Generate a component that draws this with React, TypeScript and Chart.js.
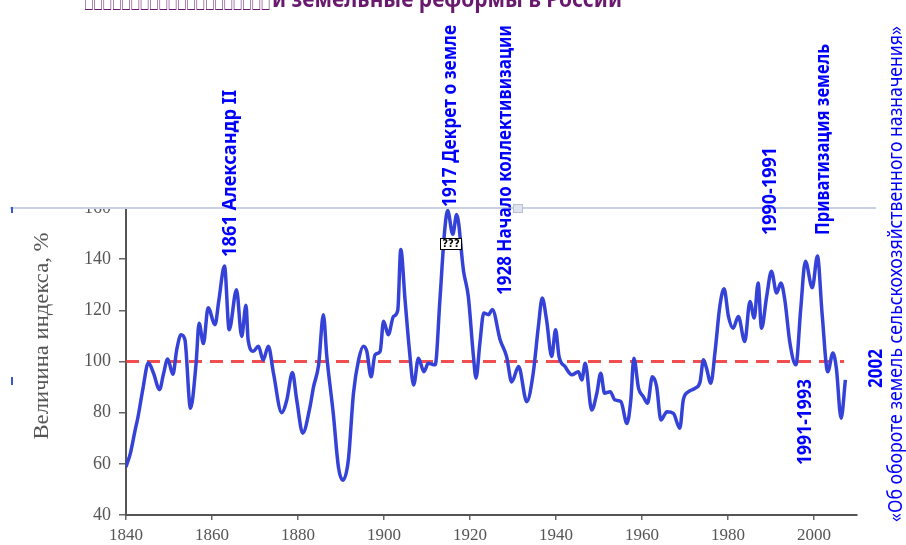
import React, { useEffect, useRef } from "react";
import { Chart, registerables } from "chart.js";

Chart.register(...registerables);

// ---- data ----
const years = [
  1840.0, 1841.0, 1842.1, 1842.8, 1843.9, 1845.2, 1846.4, 1847.8, 1848.7, 1849.7,
  1850.9, 1851.8, 1852.8, 1853.7, 1855.0, 1856.3, 1857.0, 1858.0, 1859.1, 1860.7,
  1861.6, 1862.9, 1864.0, 1865.7, 1866.9, 1867.9, 1868.4, 1869.6, 1870.8, 1871.9,
  1873.1, 1874.3, 1876.2, 1877.4, 1878.7, 1879.7, 1881.1, 1882.8, 1883.6, 1884.8,
  1885.9, 1886.7, 1888.2, 1889.4, 1890.4, 1891.7, 1892.9, 1894.1, 1895.2, 1896.0,
  1897.0, 1897.9, 1899.1, 1899.9, 1901.0, 1902.2, 1903.2, 1903.9, 1904.9, 1905.9,
  1906.9, 1908.0, 1909.3, 1910.3, 1911.9, 1913.0, 1914.1, 1914.8, 1916.0, 1916.9,
  1918.5, 1919.6, 1920.8, 1921.4, 1922.3, 1923.2, 1924.3, 1925.2, 1927.0, 1928.5,
  1929.7, 1931.3, 1933.2, 1934.7, 1935.9, 1936.8, 1937.8, 1939.0, 1939.9, 1940.7,
  1942.1, 1943.7, 1945.2, 1946.0, 1946.8, 1948.3, 1949.5, 1950.4, 1951.3, 1952.6,
  1953.7, 1955.1, 1956.5, 1957.4, 1958.1, 1959.2, 1960.3, 1961.3, 1962.4, 1963.4,
  1964.4, 1965.8, 1967.3, 1968.8, 1969.6, 1970.8, 1972.3, 1973.5, 1974.3, 1975.0,
  1976.0, 1977.0, 1978.1, 1979.1, 1980.1, 1981.2, 1982.4, 1983.9, 1985.1, 1986.1,
  1987.0, 1987.8, 1989.0, 1990.1, 1991.3, 1992.3, 1993.2, 1994.4, 1995.8, 1996.9,
  1998.0, 1999.6, 2000.8, 2001.9, 2003.2, 2004.4, 2005.2, 2006.3, 2007.3,
];

const indexValues = [
  58.8, 64, 73, 78.4, 89, 99.5, 95.4, 89, 95, 101,
  95, 104.6, 110.5, 108.5, 81.7, 99.3, 115, 107, 121, 114.4,
  124, 137.3, 112.4, 128, 109.8, 122, 108.5, 104, 106, 100.6,
  106, 95.4, 80, 85, 95.7, 85, 72, 82.4, 90, 98.7,
  118.3, 102, 79.7, 58.8, 53.6, 61.4, 87.6, 100.7, 106, 104,
  94, 102.6, 104, 115.7, 110.5, 117.6, 120, 143.8, 124, 104.6,
  90.8, 101.3, 96, 99.3, 98.7, 124, 151, 159, 149.7, 157.5,
  135.3, 125.5, 102, 93.5, 107.2, 119, 118.3, 120.3, 108.5, 102,
  92, 98, 84.3, 95.4, 113.7, 124.8, 116.3, 102, 112.4, 102,
  98, 94.8, 96, 92.8, 99.3, 81, 87.6, 95.4, 87.6, 88.2,
  85, 84.3, 75.8, 85, 101.3, 89.5, 86.3, 83.7, 94, 90.2,
  77.1, 80.4, 79.7, 73.9, 85, 88.2, 89.5, 92, 100.7, 97.4,
  91.5, 104, 121.6, 128.4, 117.6, 113, 117.6, 107.8, 123.5, 117,
  130.7, 113, 125.5, 135.3, 126.8, 130.7, 124.2, 107.2, 98.7, 120.3,
  139.2, 128.8, 141.2, 118.3, 96, 103.3, 97.4, 77.8, 92.8,
];

const baselineValue = 100;
const baselineYears = [1840, 2007];
const xTickValues = [1840, 1860, 1880, 1900, 1920, 1940, 1960, 1980, 2000];
const yTickValues = [40, 60, 80, 100, 120, 140, 160];

const titleText = "и земельные реформы в России";
const titleBoxes = "□□□□□□□□□□□□□□□□□□□□";
const yAxisTitle = "Величина индекса, %";

const annotationTexts = [
  "1861 Александр II",
  "1917 Декрет о земле",
  "1928 Начало коллективизации",
  "1990-1991",
  "Приватизация земель",
  "2002",
  "1991-1993",
  "«Об обороте земель сельскохозяйственного назначения»",
];

// layout for annotations (pixels): centre x, bottom y, length, bold
const annotationLayout = [
  { cx: 229.5, yb: 257, len: 167, bold: true },
  { cx: 449.5, yb: 207, len: 182, bold: true },
  { cx: 504, yb: 295, len: 270, bold: true },
  { cx: 769.5, yb: 235, len: 88, bold: true },
  { cx: 822.5, yb: 235, len: 191, bold: true },
  { cx: 875, yb: 388, len: 39, bold: true },
  { cx: 804.5, yb: 465, len: 86, bold: true },
  { cx: 896, yb: 522, len: 496, bold: false },
];

function drawVText(
  ctx: CanvasRenderingContext2D,
  text: string,
  cx: number,
  yb: number,
  len: number,
  font: string,
  color: string
) {
  ctx.save();
  ctx.font = font;
  ctx.fillStyle = color;
  ctx.textAlign = "left";
  ctx.textBaseline = "middle";
  const w = ctx.measureText(text).width;
  ctx.translate(cx, yb);
  ctx.rotate(-Math.PI / 2);
  ctx.scale(len / w, 1);
  ctx.fillText(text, 0, 1);
  ctx.restore();
}

const overlayPlugin = {
  id: "overlay",
  beforeDraw(chart: any) {
    const ctx = chart.ctx as CanvasRenderingContext2D;
    ctx.save();
    ctx.fillStyle = "#ffffff";
    ctx.fillRect(0, 0, chart.width, chart.height);
    ctx.restore();
  },
  afterDraw(chart: any) {
    const ctx = chart.ctx as CanvasRenderingContext2D;
    // cover above the cropped picture
    ctx.save();
    ctx.fillStyle = "#ffffff";
    ctx.fillRect(0, 0, chart.width, 207);
    // light frame line
    ctx.strokeStyle = "#c9cfe4";
    ctx.lineWidth = 2;
    ctx.beginPath();
    ctx.moveTo(10, 208);
    ctx.lineTo(876, 208);
    ctx.stroke();
    // small grey box corner
    ctx.fillStyle = "#dfe3ee";
    ctx.strokeStyle = "#b8bfd2";
    ctx.lineWidth = 1;
    ctx.fillRect(513.5, 204.5, 9, 8);
    ctx.strokeRect(513.5, 204.5, 9, 8);
    // blue bits at left edge
    ctx.strokeStyle = "#3a55d0";
    ctx.lineWidth = 2;
    ctx.beginPath();
    ctx.moveTo(12, 207);
    ctx.lineTo(12, 213);
    ctx.moveTo(12, 377);
    ctx.lineTo(12, 385);
    ctx.stroke();
    ctx.restore();

    // y axis title
    ctx.save();
    ctx.font = '21px "Liberation Serif", "DejaVu Serif", serif';
    ctx.fillStyle = "#555555";
    ctx.textAlign = "center";
    ctx.textBaseline = "middle";
    ctx.translate(42, 336);
    ctx.rotate(-Math.PI / 2);
    const tw = ctx.measureText(yAxisTitle).width;
    ctx.scale(207 / tw, 1);
    ctx.fillText(yAxisTitle, 0, 0);
    ctx.restore();

    // title (cut at top)
    ctx.save();
    ctx.fillStyle = "#6a1a6e";
    ctx.font = 'bold 23px "Noto Sans", "DejaVu Sans", sans-serif';
    ctx.textBaseline = "alphabetic";
    ctx.textAlign = "left";
    let w = ctx.measureText(titleText).width;
    ctx.save();
    ctx.translate(272, 7);
    ctx.scale(350 / w, 1);
    ctx.fillText(titleText, 0, 0);
    ctx.restore();
    ctx.font = 'bold 18px "DejaVu Sans", sans-serif';
    w = ctx.measureText(titleBoxes).width;
    ctx.save();
    ctx.translate(84, 8);
    ctx.scale(186 / w, 1);
    ctx.fillText(titleBoxes, 0, 0);
    ctx.restore();
    ctx.restore();

    // annotations
    annotationTexts.forEach((t, i) => {
      const a = annotationLayout[i];
      const font = a.bold
        ? 'bold 20px "Noto Sans", "Open Sans", sans-serif'
        : '19px "Noto Sans", "Open Sans", sans-serif';
      drawVText(ctx, t, a.cx, a.yb, a.len, font, "#0000ff");
    });

    // small "???" box
    ctx.save();
    ctx.fillStyle = "#ffffff";
    ctx.fillRect(440.5, 238.5, 21, 11);
    ctx.strokeStyle = "#000000";
    ctx.lineWidth = 1;
    ctx.strokeRect(440.5, 238.5, 21, 11);
    ctx.fillStyle = "#000000";
    ctx.font = 'bold 10px "DejaVu Sans", sans-serif';
    ctx.textAlign = "center";
    ctx.textBaseline = "middle";
    ctx.fillText("???", 451, 244.5);
    ctx.restore();
  },
};

export default function App() {
  const canvasRef = useRef<HTMLCanvasElement | null>(null);

  useEffect(() => {
    if (!canvasRef.current) return;
    const lineData = years.map((x, i) => ({ x, y: indexValues[i] }));
    const baseData = baselineYears.map((x) => ({ x, y: baselineValue }));
    const serif = '"Liberation Serif", "DejaVu Serif", serif';

    const chart = new Chart(canvasRef.current, {
      type: "line",
      data: {
        datasets: [
          {
            data: lineData,
            borderColor: "#3542d8",
            borderWidth: 3.5,
            pointRadius: 0,
            cubicInterpolationMode: "monotone",
            fill: false,
          },
          {
            data: baseData,
            borderColor: "rgba(240,60,60,0.9)",
            borderWidth: 3,
            borderDash: [13, 8],
            pointRadius: 0,
            fill: false,
          },
        ],
      },
      options: {
        animation: false,
        responsive: false,
        events: [],
        layout: { padding: { left: 0, top: 208, right: 49, bottom: 0 } },
        plugins: {
          legend: { display: false },
          tooltip: { enabled: false },
          title: { display: false },
        },
        scales: {
          x: {
            type: "linear",
            min: 1840,
            max: 2010,
            afterBuildTicks: (scale: any) => {
              scale.ticks = xTickValues.map((v) => ({ value: v }));
            },
            afterFit: (scale: any) => {
              scale.height = 30;
            },
            ticks: {
              color: "#555555",
              font: { family: serif, size: 17 },
              padding: 5,
              maxRotation: 0,
              autoSkip: false,
              callback: (v: any) => String(v),
            },
            grid: {
              drawOnChartArea: false,
              drawTicks: true,
              tickLength: 5,
              color: "#666666",
              lineWidth: 1.5,
            },
            border: { color: "#555555", width: 2 },
          },
          y: {
            type: "linear",
            min: 40,
            max: 160,
            afterBuildTicks: (scale: any) => {
              scale.ticks = yTickValues.map((v) => ({ value: v }));
            },
            afterFit: (scale: any) => {
              scale.width = 126;
            },
            ticks: {
              color: "#555555",
              font: { family: serif, size: 18 },
              padding: 8,
              autoSkip: false,
            },
            grid: {
              drawOnChartArea: false,
              drawTicks: true,
              tickLength: 7,
              color: "#666666",
              lineWidth: 1.5,
            },
            border: { color: "#555555", width: 2 },
          },
        },
      },
      plugins: [overlayPlugin],
    } as any);

    return () => chart.destroy();
  }, []);

  return (
    <div
      style={{
        position: "absolute",
        left: 0,
        top: 0,
        width: 906,
        height: 545,
        background: "#ffffff",
      }}
    >
      <canvas ref={canvasRef} width={906} height={545} />
    </div>
  );
}
